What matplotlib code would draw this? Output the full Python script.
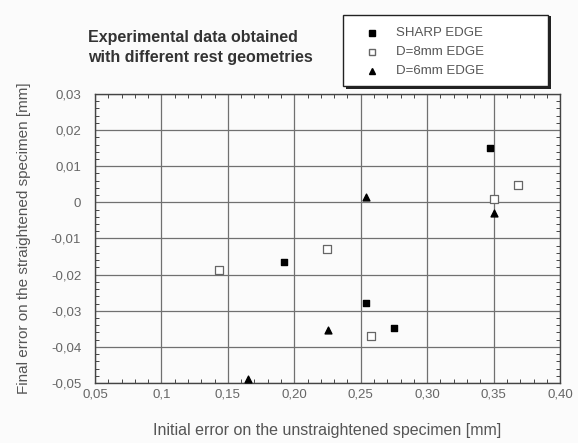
import numpy as np
import matplotlib
matplotlib.use("Agg")
import matplotlib.pyplot as plt
from matplotlib.ticker import FixedLocator, AutoMinorLocator
from matplotlib.patches import Rectangle

plt.rcParams["font.family"] = "Liberation Sans"

# data
sharp_x = [0.192, 0.254, 0.275, 0.347]
sharp_y = [-0.0165, -0.0278, -0.0349, 0.0150]
d8_x = [0.1436, 0.2245, 0.2576, 0.350, 0.3687]
d8_y = [-0.0188, -0.0129, -0.0370, 0.0009, 0.0048]
d6_x = [0.1654, 0.2257, 0.254, 0.350]
d6_y = [-0.0490, -0.0352, 0.0016, -0.0030]

xticks = [0.05, 0.10, 0.15, 0.20, 0.25, 0.30, 0.35, 0.40]
xticklabels = ['0,05', '0,1', '0,15', '0,20', '0,25', '0,30', '0,35', '0,40']
yticks = [-0.05, -0.04, -0.03, -0.02, -0.01, 0.0, 0.01, 0.02, 0.03]
yticklabels = ['-0,05', '-0,04', '-0,03', '-0,02', '-0,01', '0', '0,01', '0,02', '0,03']
labels = ['SHARP EDGE', 'D=8mm EDGE', 'D=6mm EDGE']

fig = plt.figure(figsize=(5.78, 4.43), dpi=100)
fig.patch.set_facecolor('#fbfbfb')
ax = fig.add_axes([0.1644, 0.1354, 0.8046, 0.6526])
ax.set_facecolor('#fbfbfb')

ax.scatter(sharp_x, sharp_y, marker='s', s=24, color='black', zorder=3)
ax.scatter(d8_x, d8_y, marker='s', s=30, facecolor='white', edgecolor='#666666',
           linewidth=0.9, zorder=3)
ax.scatter(d6_x, d6_y, marker='^', s=24, color='black', zorder=3, clip_on=False)

ax.set_xlim(0.05, 0.40)
ax.set_ylim(-0.05, 0.03)
ax.xaxis.set_major_locator(FixedLocator(xticks))
ax.yaxis.set_major_locator(FixedLocator(yticks))
ax.set_xticklabels(xticklabels)
ax.set_yticklabels(yticklabels)
ax.xaxis.set_minor_locator(AutoMinorLocator(5))
ax.yaxis.set_minor_locator(AutoMinorLocator(5))
ax.tick_params(which='both', direction='in', top=True, right=True,
               colors='#444444', labelcolor='#666666', labelsize=9.5)
ax.tick_params(axis='x', which='major', length=0, pad=4)
ax.tick_params(axis='y', which='major', length=0, pad=10)
ax.tick_params(which='minor', length=3, width=0.7)
ax.grid(True, which='major', color='#707070', linewidth=0.9)
for sp in ax.spines.values():
    sp.set_color('#444444')
    sp.set_linewidth(1.0)

ax.set_xlabel('Initial error on the unstraightened specimen [mm]',
              fontsize=11.5, color='#555555', labelpad=16)
ax.set_ylabel('Final error on the straightened specimen [mm]',
              fontsize=11, color='#555555', labelpad=14)

fig.text(0.152, 0.893, 'Experimental data obtained\nwith different rest geometries',
         fontsize=11.5, fontweight='bold', color='#333333', va='center',
         linespacing=1.35)

# legend box with shadow
fig.patches.append(Rectangle((0.598, 0.798), 0.355, 0.165, transform=fig.transFigure,
                             facecolor='#222222', edgecolor='none', zorder=1))
fig.patches.append(Rectangle((0.593, 0.805), 0.355, 0.162, transform=fig.transFigure,
                             facecolor='white', edgecolor='#222222', linewidth=1.0,
                             zorder=2))
mk = ['s', 's', '^']
fcs = ['black', 'white', 'black']
ecs = ['black', '#666666', 'black']
for i in range(3):
    yy = 0.925 - i * 0.0425
    fig.lines.append(plt.Line2D([0.644], [yy], marker=mk[i], markersize=4.5,
                                markerfacecolor=fcs[i], markeredgecolor=ecs[i],
                                linestyle='none', transform=fig.transFigure, zorder=3))
    fig.text(0.685, yy, labels[i], fontsize=9.5, color='#555555', va='center',
             zorder=3)

fig.savefig('out.png', dpi=100, facecolor=fig.get_facecolor())
